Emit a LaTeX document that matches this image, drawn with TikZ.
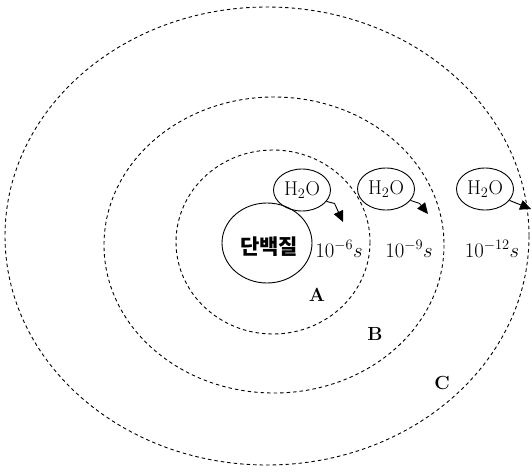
\documentclass[tikz,border=0pt]{standalone}
\usepackage{fontspec}
\newfontfamily\kr{Noto Sans CJK KR}
\usetikzlibrary{shapes.geometric,arrows.meta}
\tikzset{
  zone/.style={draw, dash pattern=on 3.5pt off 3pt, line width=0.9pt},
  water/.style={draw, ellipse, line width=0.9pt, minimum width=57pt, minimum height=42pt, inner sep=0pt, font=\fontsize{20}{20}\selectfont},
  prot/.style={draw, ellipse, line width=0.9pt, minimum width=90pt, minimum height=80pt, inner sep=0pt},
  flow/.style={line width=0.9pt, -{Triangle[length=11pt,width=10pt]}},
  tlabel/.style={inner sep=0pt, font=\fontsize{22}{22}\selectfont},
  zlabel/.style={inner sep=0pt, font=\fontsize{19}{19}\selectfont\bfseries}
}
\begin{document}
\begin{tikzpicture}[x=1pt,y=-1pt]
\useasboundingbox (0,0) rectangle (532,471);
% zones
\draw[zone] (267,236) ellipse [x radius=262, y radius=229];
\draw[zone] (274,245) ellipse [x radius=170, y radius=148];
\draw[zone] (273,242) ellipse [x radius=97, y radius=92];
% protein
\node[prot] (p) at (267,243) {};
\node[inner sep=0pt, font=\kr\bfseries\fontsize{21}{21}\selectfont] (pt) at (269,247) {단백질};
% water molecules
\node[water] (w1) at (302,190) {H$_2$O};
\node[water] (w2) at (386,189) {H$_2$O};
\node[water] (w3) at (485,189) {H$_2$O};
\coordinate (t1) at (343,222);
\coordinate (t2) at (428,214);
\coordinate (t3) at (531,209);
\draw[flow] (w1.-25) -- ++(8,2) -- (t1);
\draw[flow] (w2.-25) -- ++(9,3) -- (t2);
\draw[flow] (w3.-25) -- ++(10,4) -- (t3);
% time labels
\node[tlabel] (l1) at (339,249) {$10^{-6}s$};
\node[tlabel] (l2) at (409,249) {$10^{-9}s$};
\node[tlabel] (l3) at (492,249) {$10^{-12}s$};
% zone labels
\node[zlabel] (a) at (317,295) {A};
\node[zlabel] (b) at (375,334) {B};
\node[zlabel] (c) at (442,383) {C};
\end{tikzpicture}
\end{document}
